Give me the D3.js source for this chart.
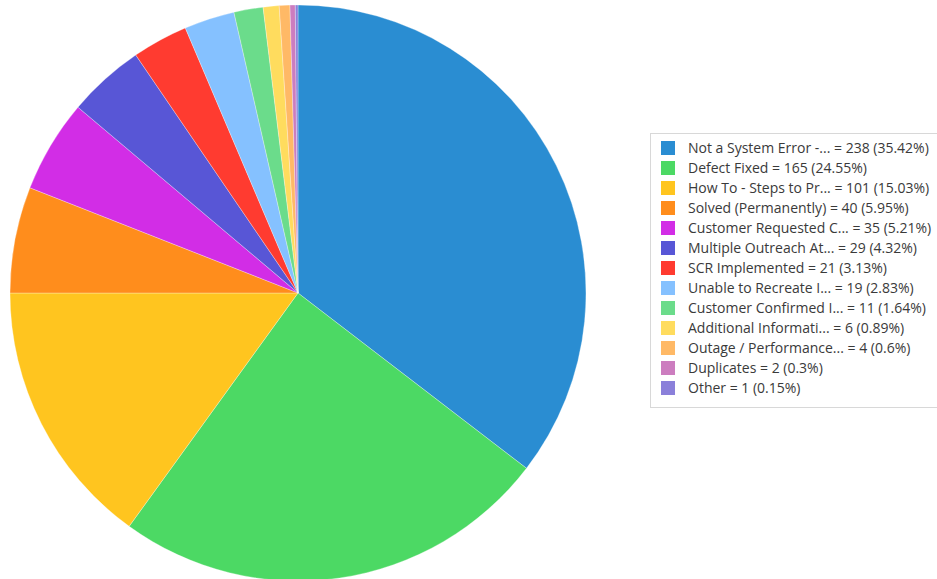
<!DOCTYPE html>
<html>
<head>
<meta charset="utf-8">
<script src="https://cdn.jsdelivr.net/npm/d3@7"></script>
<style>
  body { margin: 0; background: #fff; }
  svg { display: block; }
  .legend text { font-family: "Open Sans", sans-serif; font-size: 14px; fill: #3a3a3a; }
</style>
</head>
<body>
<div id="chart"></div>
<script>
var labels = ["Not a System Error -...", "Defect Fixed", "How To - Steps to Pr...", "Solved (Permanently)",
  "Customer Requested C...", "Multiple Outreach At...", "SCR Implemented", "Unable to Recreate I...",
  "Customer Confirmed I...", "Additional Informati...", "Outage / Performance...", "Duplicates", "Other"];
var values = [238, 165, 101, 40, 35, 29, 21, 19, 11, 6, 4, 2, 1];
var percents = ["35.42", "24.55", "15.03", "5.95", "5.21", "4.32", "3.13", "2.83", "1.64", "0.89", "0.6", "0.3", "0.15"];
var colors = ["#2a8dd2", "#4cd964", "#ffc51f", "#ff8d1c", "#d22de6", "#5856d6", "#ff3b30", "#85c1ff",
  "#6bdc8b", "#ffdc5e", "#ffb966", "#cc7dbf", "#8b80da"];

var width = 937, height = 579;
var svg = d3.select("#chart").append("svg").attr("width", width).attr("height", height);

var cx = 298, cy = 293, r = 288;

var pie = d3.pie().sort(null).value(function(d) { return d; });
var arc = d3.arc().innerRadius(0).outerRadius(r);

var g = svg.append("g").attr("transform", "translate(" + cx + "," + cy + ")");
g.selectAll("path").data(pie(values)).enter().append("path")
  .attr("d", arc)
  .attr("fill", function(d, i) { return colors[i]; })
  .attr("stroke", "#fff")
  .attr("stroke-width", 0.3);

// legend
var lg = svg.append("g").attr("class", "legend");
lg.append("rect").attr("x", 650.5).attr("y", 133.5).attr("width", 290).attr("height", 274)
  .attr("fill", "#fff").attr("stroke", "#d8d8d8");

var rowY = d3.scaleLinear().domain([0, 1]).range([148, 168]);
var rows = lg.selectAll("g.row").data(values).enter().append("g").attr("class", "row")
  .attr("transform", function(d, i) { return "translate(0," + rowY(i) + ")"; });
rows.append("rect").attr("x", 661).attr("y", -7).attr("width", 14).attr("height", 14)
  .attr("fill", function(d, i) { return colors[i]; });
rows.append("text").attr("x", 688).attr("y", 5)
  .text(function(d, i) { return labels[i] + " = " + d + " (" + percents[i] + "%)"; });
</script>
</body>
</html>
